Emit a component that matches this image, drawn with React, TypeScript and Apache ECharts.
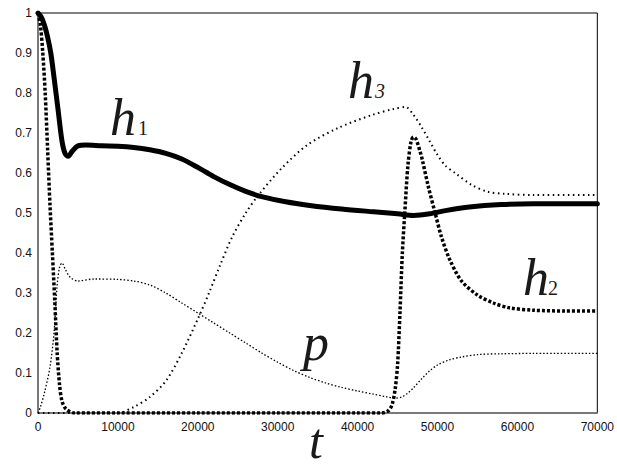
import React, { useEffect, useRef } from "react";
import * as echarts from "echarts";

// ---- data ----
const xTicks = [0, 10000, 20000, 30000, 40000, 50000, 60000, 70000];
const yTicks = [0, 0.1, 0.2, 0.3, 0.4, 0.5, 0.6, 0.7, 0.8, 0.9, 1];

const tH1 = [0, 400, 800, 1200, 1600, 2000, 2500, 3000, 3400, 3800, 4300, 5000, 6000, 8000, 10000, 12000, 14000, 16000, 18000, 20000, 22000, 24000, 26000, 28000, 31000, 34000, 38000, 42000, 45000, 47000, 49000, 51000, 54000, 58000, 62000, 70000];
const vH1 = [1.0, 0.99, 0.97, 0.94, 0.9, 0.84, 0.76, 0.68, 0.648, 0.642, 0.655, 0.668, 0.67, 0.668, 0.667, 0.664, 0.658, 0.649, 0.635, 0.614, 0.591, 0.571, 0.554, 0.541, 0.528, 0.519, 0.51, 0.503, 0.498, 0.494, 0.498, 0.506, 0.515, 0.521, 0.523, 0.523];

const tH2 = [0, 300, 600, 900, 1200, 1500, 1800, 2100, 2400, 2700, 3000, 3500, 4500, 10000, 20000, 30000, 40000, 43000, 43800, 44300, 44700, 45000, 45300, 45600, 45900, 46300, 46700, 47000, 47300, 47800, 48100, 48800, 49700, 50500, 51500, 53000, 55000, 57000, 59000, 62000, 66000, 70000];
const vH2 = [1.0, 0.97, 0.9, 0.8, 0.66, 0.52, 0.4, 0.28, 0.15, 0.07, 0.03, 0.01, 0.0, 0.0, 0.0, 0.0, 0.0, 0.0, 0.005, 0.02, 0.06, 0.12, 0.25, 0.4, 0.5, 0.62, 0.68, 0.69, 0.685, 0.655, 0.633, 0.57, 0.5, 0.44, 0.385, 0.33, 0.295, 0.275, 0.263, 0.257, 0.255, 0.255];

const tH3 = [0, 5000, 10000, 12000, 14000, 16000, 18000, 20000, 21400, 22800, 24300, 26000, 27600, 30500, 33700, 37600, 41800, 44500, 46000, 47000, 48000, 49000, 50000, 51000, 52200, 54300, 56300, 58400, 62000, 70000];
const vH3 = [0.0, 0.0, 0.0, 0.015, 0.04, 0.08, 0.15, 0.235, 0.3, 0.37, 0.44, 0.5, 0.545, 0.612, 0.67, 0.713, 0.745, 0.76, 0.765, 0.745, 0.715, 0.68, 0.645, 0.618, 0.6, 0.57, 0.553, 0.548, 0.545, 0.545];

const tP = [0, 300, 800, 1500, 2000, 2400, 2700, 3000, 3400, 4000, 5000, 7000, 10000, 12000, 14000, 16000, 18000, 20000, 22000, 24000, 26000, 28000, 30000, 32000, 34000, 36000, 38000, 40000, 42000, 43500, 44700, 45500, 46300, 47000, 48000, 49000, 50000, 51500, 53000, 55000, 58000, 62000, 70000];
const vP = [0.0, 0.015, 0.05, 0.115, 0.2, 0.32, 0.365, 0.375, 0.36, 0.34, 0.33, 0.335, 0.334, 0.33, 0.32, 0.3, 0.275, 0.25, 0.225, 0.2, 0.175, 0.15, 0.127, 0.106, 0.089, 0.075, 0.064, 0.055, 0.047, 0.041, 0.037, 0.04, 0.05, 0.063, 0.085, 0.105, 0.12, 0.133, 0.14, 0.146, 0.148, 0.149, 0.149];

const zip = (t: number[], v: number[]) => t.map((x, i) => [x, v[i]]);

const SERIF = "'Liberation Serif', 'DejaVu Serif', serif";
const SANS = "'Liberation Sans', Arial, sans-serif";

function label(main: string, sub: string, x: number, baseline: number, subX: number, subItalic: boolean, big = 52) {
  const small = 20;
  return [
    {
      type: "text",
      x,
      y: baseline - big * 0.3375,
      style: { text: main, font: `italic ${big}px ${SERIF}`, lineHeight: 30, fill: "#1a1a1a", verticalAlign: "middle", align: "left" },
      z: 100,
    },
    ...(sub
      ? [
          {
            type: "text",
            x: subX,
            y: baseline - small * 0.3375,
            style: { text: sub, font: `${subItalic ? "italic " : ""}${small}px ${SERIF}`, fill: "#1a1a1a", verticalAlign: "middle", align: "left" },
            z: 100,
          },
        ]
      : []),
  ];
}

export default function App() {
  const ref = useRef<HTMLDivElement>(null);
  useEffect(() => {
    document.body.style.margin = "0";
    const chart = echarts.init(ref.current!, undefined, { renderer: "svg" });
    chart.setOption({
      animation: false,
      backgroundColor: "#fff",
      grid: { left: 38, right: 17, top: 13, bottom: 56, show: true, borderColor: "#000", borderWidth: 1 },
      xAxis: {
        type: "value",
        min: xTicks[0],
        max: xTicks[xTicks.length - 1],
        interval: xTicks[1] - xTicks[0],
        axisLine: { show: true, lineStyle: { color: "#777", width: 1.5 } },
        axisTick: { show: false },
        splitLine: { show: false },
        axisLabel: { fontFamily: SANS, fontSize: 12, color: "#111", margin: 8, formatter: (v: number) => String(v) },
      },
      yAxis: {
        type: "value",
        min: yTicks[0],
        max: yTicks[yTicks.length - 1],
        interval: yTicks[1] - yTicks[0],
        axisLine: { show: true, lineStyle: { color: "#777", width: 1.5 } },
        axisTick: { show: false },
        splitLine: { show: false },
        axisLabel: {
          fontFamily: SANS,
          fontSize: 12,
          color: "#111",
          margin: 6,
          formatter: (v: number) => String(Math.round(v * 10) / 10),
        },
      },
      series: [
        {
          name: "p",
          type: "line",
          data: zip(tP, vP),
          showSymbol: false,
          smooth: 0.3,
          lineStyle: { color: "#000", width: 1.3, type: [1.5, 2] },
          z: 2,
        },
        {
          name: "h3",
          type: "line",
          data: zip(tH3, vH3),
          showSymbol: false,
          smooth: 0.3,
          lineStyle: { color: "#000", width: 2, type: [1.5, 3.5] },
          z: 3,
        },
        {
          name: "h2",
          type: "line",
          data: zip(tH2, vH2),
          showSymbol: false,
          smooth: 0.3,
          lineStyle: { color: "#000", width: 3.5, type: [3, 2] },
          z: 4,
        },
        {
          name: "h1",
          type: "line",
          data: zip(tH1, vH1),
          showSymbol: false,
          smooth: 0.3,
          lineStyle: { color: "#000", width: 5, cap: "round", join: "round" },
          z: 5,
        },
      ],
      graphic: [
        ...label("h", "1", 110, 135, 138, false),
        ...label("h", "3", 348, 98, 375, true),
        ...label("h", "2", 523, 295, 548, false),
        ...label("p", "", 303, 360, 0, false),
        ...label("t", "", 309, 458, 0, false, 50),
      ],
    });
    return () => chart.dispose();
  }, []);
  return <div ref={ref} style={{ width: 617, height: 469 }} />;
}
